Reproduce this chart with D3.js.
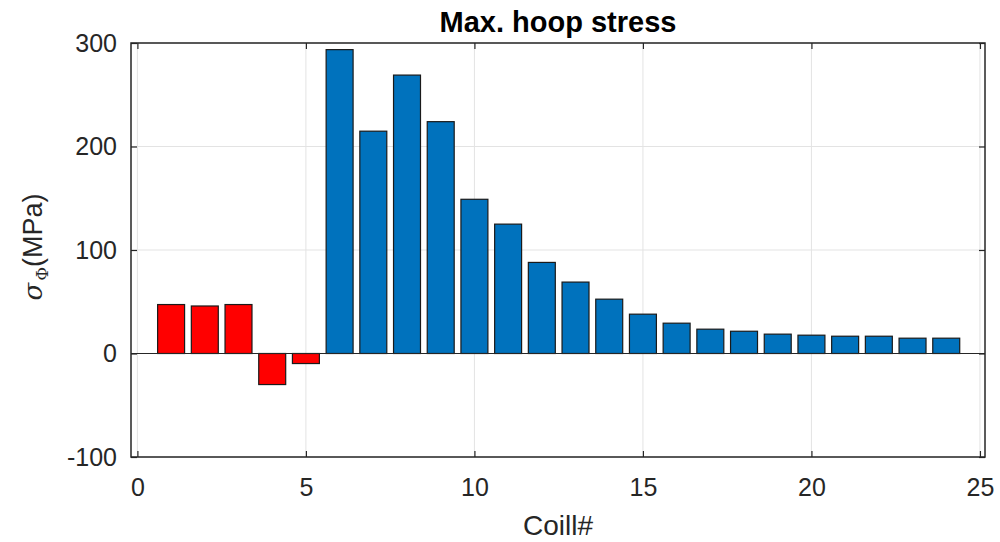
<!DOCTYPE html>
<html lang="en">
<head>
  <meta charset="UTF-8" />
  <title>Max. hoop stress</title>
  <script src="https://d3js.org/d3.v7.min.js"></script>
  <style>
    body { margin: 0; background: #fff; }
    text { font-family: "Liberation Sans", Arial, sans-serif; fill: #262626; }
  </style>
</head>
<body>
  <svg width="1000" height="542"></svg>

  <script>
    const coils = d3.range(1, 25);
    const stress = [47.3, 45.9, 47.3, -30, -9.7, 293.6, 214.8, 269, 224, 149, 125, 88,
                    69, 52.5, 38, 29.3, 23.5, 21.5, 18.7, 17.7, 16.7, 16.7, 14.8, 14.8];
    const barColor = coils.map(c => c <= 5 ? "#ff0000" : "#0072bd");
    const xTicks = [0, 5, 10, 15, 20, 25];
    const yTicks = [-100, 0, 100, 200, 300];

    const plotL = 131, plotR = 985, plotT = 43, plotB = 457;
    const svg = d3.select("svg");

    const x = d3.scaleLinear().domain([-0.19, 25.15]).range([plotL, plotR]);
    const y = d3.scaleLinear().domain([-100, 300]).range([plotB, plotT]);
    const barW = x(0.8) - x(0);

    // grid
    svg.append("g").selectAll("line")
      .data(xTicks).enter().append("line")
      .attr("x1", d => x(d)).attr("x2", d => x(d))
      .attr("y1", plotT).attr("y2", plotB)
      .attr("stroke", "#e3e3e3").attr("stroke-width", 1);
    svg.append("g").selectAll("line")
      .data(yTicks).enter().append("line")
      .attr("x1", plotL).attr("x2", plotR)
      .attr("y1", d => y(d)).attr("y2", d => y(d))
      .attr("stroke", "#e3e3e3").attr("stroke-width", 1);

    // bars
    svg.append("g").selectAll("rect")
      .data(stress).enter().append("rect")
      .attr("x", (d, i) => x(coils[i]) - barW / 2)
      .attr("width", barW)
      .attr("y", d => y(Math.max(0, d)))
      .attr("height", d => Math.abs(y(d) - y(0)))
      .attr("fill", (d, i) => barColor[i])
      .attr("stroke", "#1a1a1a").attr("stroke-width", 1.2);

    // baseline
    svg.append("line")
      .attr("x1", plotL).attr("x2", plotR)
      .attr("y1", y(0)).attr("y2", y(0))
      .attr("stroke", "#262626").attr("stroke-width", 1.2);

    // axes
    const fmt = d => String(d);
    const xAxis = d3.axisBottom(x).tickValues(xTicks).tickFormat(fmt).tickSize(-6).tickPadding(21).tickSizeOuter(0);
    const yAxis = d3.axisLeft(y).tickValues(yTicks).tickFormat(fmt).tickSize(-6).tickPadding(14).tickSizeOuter(0);
    const xTop = d3.axisTop(x).tickValues(xTicks).tickSize(-6).tickFormat("").tickSizeOuter(0);
    const yRight = d3.axisRight(y).tickValues(yTicks).tickSize(-6).tickFormat("").tickSizeOuter(0);

    const gx = svg.append("g").attr("transform", `translate(0,${plotB})`).call(xAxis);
    const gy = svg.append("g").attr("transform", `translate(${plotL},0)`).call(yAxis);
    svg.append("g").attr("transform", `translate(0,${plotT})`).call(xTop);
    svg.append("g").attr("transform", `translate(${plotR},0)`).call(yRight);

    svg.selectAll(".domain").remove();
    svg.selectAll(".tick line").attr("stroke", "#262626").attr("stroke-width", 1.2);
    svg.selectAll(".tick text")
      .attr("font-family", "'Liberation Sans', Arial, sans-serif")
      .attr("font-size", 25).attr("fill", "#262626");
    gx.selectAll(".tick text").attr("dy", "0.71em");

    svg.append("rect")
      .attr("x", plotL).attr("y", plotT)
      .attr("width", plotR - plotL).attr("height", plotB - plotT)
      .attr("fill", "none").attr("stroke", "#262626").attr("stroke-width", 1.5);

    // title and labels
    svg.append("text")
      .attr("x", (plotL + plotR) / 2).attr("y", 32)
      .attr("text-anchor", "middle")
      .attr("font-size", 29).attr("font-weight", "bold")
      .style("fill", "#000")
      .text("Max. hoop stress");

    svg.append("text")
      .attr("x", (plotL + plotR) / 2).attr("y", 535)
      .attr("text-anchor", "middle")
      .attr("font-size", 28)
      .text("Coill#");

    const yl = svg.append("text")
      .attr("transform", "translate(42,247) rotate(-90)")
      .attr("text-anchor", "middle")
      .attr("font-size", 27);
    yl.append("tspan").attr("font-style", "italic").attr("font-family", "'DejaVu Serif', serif").attr("font-size", 26).text("σ");
    yl.append("tspan").attr("font-size", 17).attr("dy", 6).attr("dx", 2).attr("font-family", "'DejaVu Serif', serif").text("Φ");
    yl.append("tspan").attr("dy", -6).text("(MPa)");
  </script>
</body>
</html>
